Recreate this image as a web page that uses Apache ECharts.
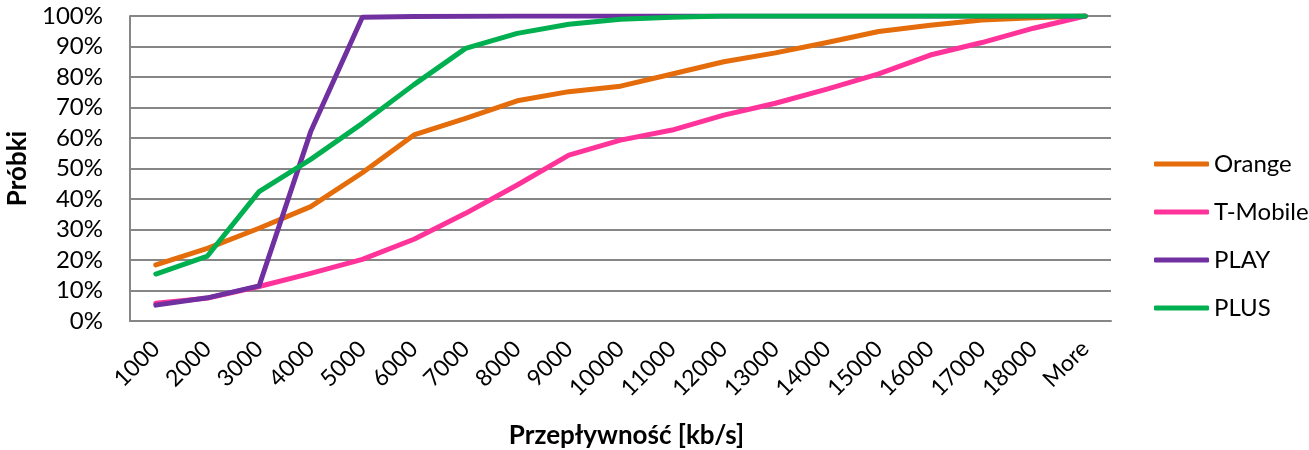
<!DOCTYPE html>
<html><head><meta charset="utf-8">
<script src="https://cdn.jsdelivr.net/npm/echarts@6/dist/echarts.min.js"></script>
<style>html,body{margin:0;padding:0;background:#fff}#c{width:1309px;height:450px}</style>
</head><body><div id="c"></div>
<script>
const categories = ['1000','2000','3000','4000','5000','6000','7000','8000','9000','10000','11000','12000','13000','14000','15000','16000','17000','18000','More'];
const orange  = [18.4,23.8,30.4,37.5,48.6,61.0,66.4,72.2,75.2,77.0,81.0,85.0,87.9,91.3,94.9,97.0,98.7,99.4,100];
const tmobile = [5.8,7.5,11.3,15.6,20.2,26.8,35.3,44.6,54.4,59.3,62.6,67.5,71.4,76.0,81.0,87.2,91.3,96.0,100];
const play    = [5.2,7.6,11.5,62.1,99.6,99.8,99.9,100,100,100,100,100,100,100,100,100,100,100,100];
const plus    = [15.4,21.3,42.4,53.0,64.8,77.5,89.4,94.3,97.3,98.9,99.6,100,100,100,100,100,100,100,100];
const yTicks = [0,10,20,30,40,50,60,70,80,90,100];

const font = 'Lato, "Liberation Sans", sans-serif';
const mk = (name, data, color) => ({
  name, type:'line', data, symbol:'none', smooth:false,
  lineStyle:{color, width:5, cap:'round', join:'round'}, itemStyle:{color}
});
const chart = echarts.init(document.getElementById('c'), null, {renderer:'canvas'});
chart.setOption({
  animation:false,
  grid:{left:130, right:198, top:16, bottom:129, containLabel:false, outerBoundsMode:'none'},
  legend:{
    orient:'vertical', left:1149, top:147, itemWidth:55, itemHeight:5, itemGap:24,
    icon:'roundRect',
    textStyle:{fontFamily:font, fontSize:24, color:'#000'},
    data:['Orange','T-Mobile','PLAY','PLUS']
  },
  xAxis:{
    type:'category', data:categories, boundaryGap:true,
    name:'Przepływność [kb/s]', nameLocation:'middle', nameGap:102,
    nameTextStyle:{fontFamily:font, fontSize:26, fontWeight:'bold', color:'#000', padding:[0,0,0,12]},
    axisLine:{lineStyle:{color:'#868686', width:2}},
    axisTick:{show:false},
    axisLabel:{rotate:45, fontFamily:font, fontSize:23, color:'#000', margin:24, interval:0}
  },
  yAxis:{
    type:'value', min:0, max:100, interval:10,
    name:'Próbki', nameLocation:'middle', nameGap:92, nameRotate:90,
    nameTextStyle:{fontFamily:font, fontSize:26, fontWeight:'bold', color:'#000'},
    axisLine:{show:true, lineStyle:{color:'#868686', width:2}},
    axisTick:{show:false},
    splitLine:{lineStyle:{color:'#868686', width:2}},
    axisLabel:{fontFamily:font, fontSize:24, color:'#000', margin:27, formatter: v => yTicks.includes(v) ? v + '%' : ''}
  },
  series:[
    mk('Orange', orange, '#E46C0A'),
    mk('T-Mobile', tmobile, '#FF3399'),
    mk('PLAY', play, '#7030A0'),
    mk('PLUS', plus, '#00B050')
  ]
});
</script></body></html>
